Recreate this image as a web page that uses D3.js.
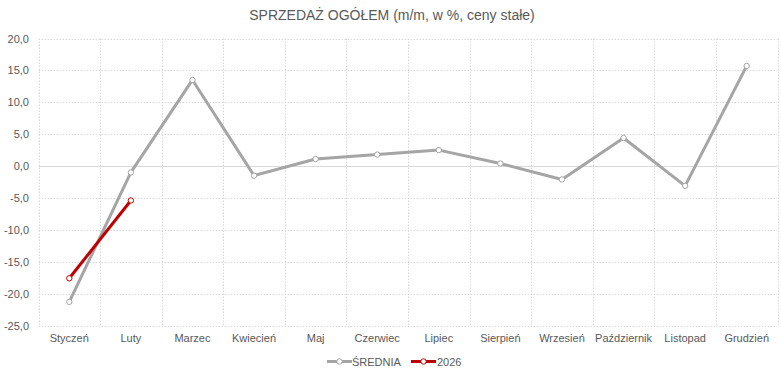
<!DOCTYPE html>
<html>
<head>
<meta charset="utf-8">
<script src="https://cdn.jsdelivr.net/npm/d3@7"></script>
<style>
  body { margin: 0; background: #fff; }
  svg { font-family: "Liberation Sans", Arial, sans-serif; }
</style>
</head>
<body>
<svg id="chart" width="781" height="373"></svg>
<script>
const months = ["Styczeń", "Luty", "Marzec", "Kwiecień", "Maj", "Czerwiec", "Lipiec", "Sierpień", "Wrzesień", "Październik", "Listopad", "Grudzień"];
const sredniaValues = [-21.3, -1.0, 13.5, -1.5, 1.1, 1.8, 2.5, 0.4, -2.1, 4.4, -3.1, 15.7];
const values2026 = [-17.6, -5.4];
const yTicks = [20, 15, 10, 5, 0, -5, -10, -15, -20, -25];
const seriesNames = ["ŚREDNIA", "2026"];
const seriesColors = ["#a5a5a5", "#c00000"];

const svg = d3.select("#chart");
const margin = { top: 38.5, right: 3.5, bottom: 47.5, left: 38.5 };
const width = 781 - margin.left - margin.right;
const height = 373 - margin.top - margin.bottom;

const x = d3.scaleBand().domain(months).range([margin.left, margin.left + width]);
const y = d3.scaleLinear().domain([-25, 20]).range([margin.top + height, margin.top]);

// title
svg.append("text")
    .attr("x", 392)
    .attr("y", 20)
    .attr("text-anchor", "middle")
    .attr("font-size", 14)
    .attr("fill", "#595959")
    .text("SPRZEDAŻ OGÓŁEM (m/m, w %, ceny stałe)");

// horizontal gridlines
svg.append("g").selectAll("line")
    .data(yTicks)
    .join("line")
    .attr("x1", margin.left).attr("x2", margin.left + width)
    .attr("y1", d => Math.round(y(d)) + 0.5).attr("y2", d => Math.round(y(d)) + 0.5)
    .attr("stroke", "#d9d9d9")
    .attr("stroke-dasharray", d => d === 0 ? null : "1.5,1.5");

// vertical gridlines between categories
const bounds = months.map(m => x(m)).concat([margin.left + width]);
svg.append("g").selectAll("line")
    .data(bounds)
    .join("line")
    .attr("x1", d => Math.round(d) + 0.5).attr("x2", d => Math.round(d) + 0.5)
    .attr("y1", margin.top).attr("y2", margin.top + height)
    .attr("stroke", "#d9d9d9")
    .attr("stroke-dasharray", "1.5,1.5");

// y axis labels
svg.append("g").selectAll("text")
    .data(yTicks)
    .join("text")
    .attr("x", 29)
    .attr("y", d => y(d) + 4)
    .attr("text-anchor", "end")
    .attr("font-size", 11)
    .attr("fill", "#595959")
    .text(d => d3.format(".1f")(d).replace(".", ",").replace("−", "-"));

// x axis labels
svg.append("g").selectAll("text")
    .data(months)
    .join("text")
    .attr("x", d => x(d) + x.bandwidth() / 2)
    .attr("y", 342)
    .attr("text-anchor", "middle")
    .attr("font-size", 11)
    .attr("fill", "#595959")
    .text(d => d);

const line = d3.line()
    .x((d, i) => x(months[i]) + x.bandwidth() / 2)
    .y(d => y(d));

[sredniaValues, values2026].forEach((vals, s) => {
    const g = svg.append("g");
    g.append("path")
        .attr("d", line(vals))
        .attr("fill", "none")
        .attr("stroke", seriesColors[s])
        .attr("stroke-width", 3)
        .attr("stroke-linejoin", "round");
    g.selectAll("circle")
        .data(vals)
        .join("circle")
        .attr("cx", (d, i) => x(months[i]) + x.bandwidth() / 2)
        .attr("cy", d => y(d))
        .attr("r", 2.7)
        .attr("fill", "#fff")
        .attr("stroke", seriesColors[s])
        .attr("stroke-width", 1);
});

// legend
const legendItems = [{ x: 327, tx: 352 }, { x: 411, tx: 437 }];
const ly = 361.5;
legendItems.forEach((it, s) => {
    svg.append("line")
        .attr("x1", it.x).attr("x2", it.x + 25)
        .attr("y1", ly).attr("y2", ly)
        .attr("stroke", seriesColors[s])
        .attr("stroke-width", 3);
    svg.append("circle")
        .attr("cx", it.x + 12.5).attr("cy", ly)
        .attr("r", 2.7)
        .attr("fill", "#fff")
        .attr("stroke", seriesColors[s]);
    svg.append("text")
        .attr("x", it.tx)
        .attr("y", ly + 4)
        .attr("font-size", 11)
        .attr("fill", "#595959")
        .text(seriesNames[s]);
});
</script>
</body>
</html>
